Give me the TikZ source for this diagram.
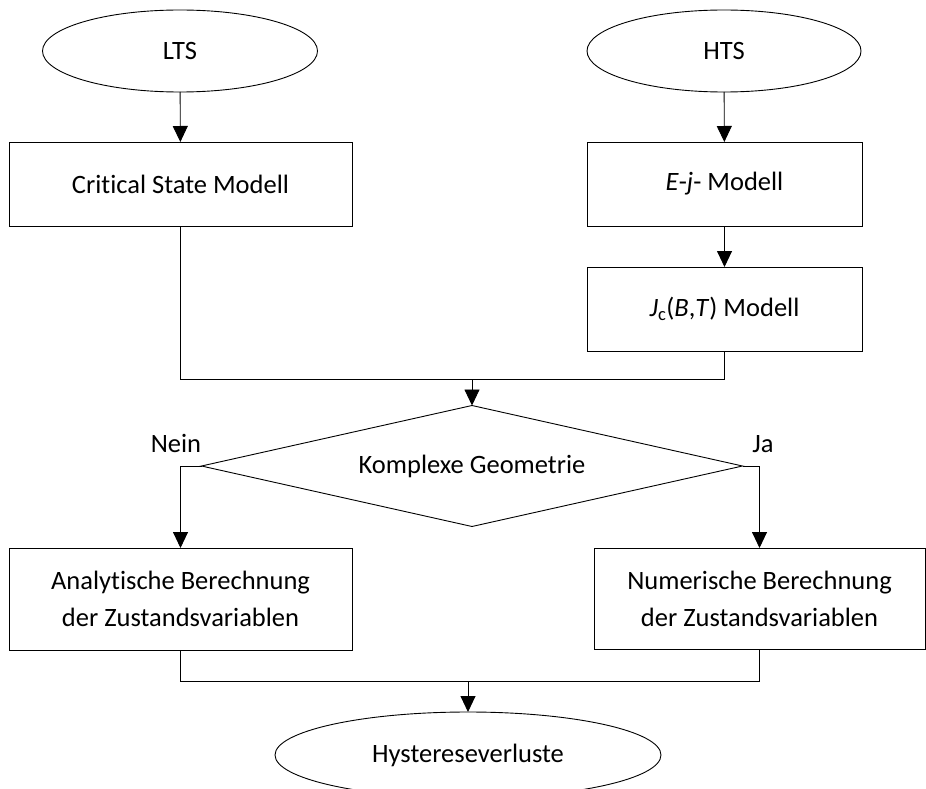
\documentclass[tikz,border=0pt]{standalone}
\usepackage{fontspec}
\setmainfont{Carlito}[Ligatures=NoCommon]
\usetikzlibrary{shapes.geometric,arrows.meta}

\begin{document}
\begin{tikzpicture}[x=1pt,y=-1pt,
  every node/.style={inner sep=0pt, outer sep=0pt, font=\fontsize{26.5}{37}\selectfont, align=center},
  shape line/.style={draw, line width=0.9pt},
  terminal/.style={shape line, ellipse},
  process/.style={shape line, rectangle},
  decision/.style={shape line, diamond, aspect=4.47},
  link/.style={line width=0.9pt},
  flow/.style={link, -{Triangle[width=15pt,length=16pt]}}
]
\useasboundingbox (0,0) rectangle (926,789);

% start terminals
\node[terminal, minimum width=275pt, minimum height=82pt] (lts) at (180,51) {LTS};
\node[terminal, minimum width=274pt, minimum height=82pt] (hts) at (724,51) {HTS};

% models
\node[process, minimum width=343pt, minimum height=84pt] (csm) at (180.5,184) {Critical State Modell};
\node[process, minimum width=275pt, minimum height=84pt] (ej) at (724.5,184) {\textit{E}-\textit{j}- Modell};
\node[process, minimum width=275pt, minimum height=84pt] (jc) at (724.5,309) {\textit{J}\textsubscript{c}(\textit{B},\textit{T}) Modell};

% decision
\node[decision, minimum width=541pt, minimum height=121pt] (geo) at (472,466) {Komplexe Geometrie};
\node (nein) at (176,443) {Nein};
\node (ja) at (763,444) {Ja};

% calculations
\node[process, minimum width=343pt, minimum height=102pt] (ana) at (180.5,599) {Analytische Berechnung\\der Zustandsvariablen};
\node[process, minimum width=331pt, minimum height=101pt] (num) at (759.5,598.5) {Numerische Berechnung\\der Zustandsvariablen};

% result
\node[terminal, minimum width=386pt, minimum height=86pt] (hyst) at (468,755) {Hystereseverluste};

% junction points
\coordinate (m1) at (472,379);
\coordinate (m2) at (468,681);

% connectors
\draw[flow] (lts) -- (csm);
\draw[flow] (hts) -- (ej);
\draw[flow] (ej) -- (jc);
\draw[link] (csm.south) |- (m1);
\draw[link] (jc.south) |- (m1);
\draw[flow] (m1) -- (geo.north);
\draw[flow] (geo.west) -| (ana.north);
\draw[flow] (geo.east) -| (num.north);
\draw[link] (ana.south) |- (m2);
\draw[link] (num.south) |- (m2);
\draw[flow] (m2) -- (hyst.north);
\end{tikzpicture}
\end{document}
